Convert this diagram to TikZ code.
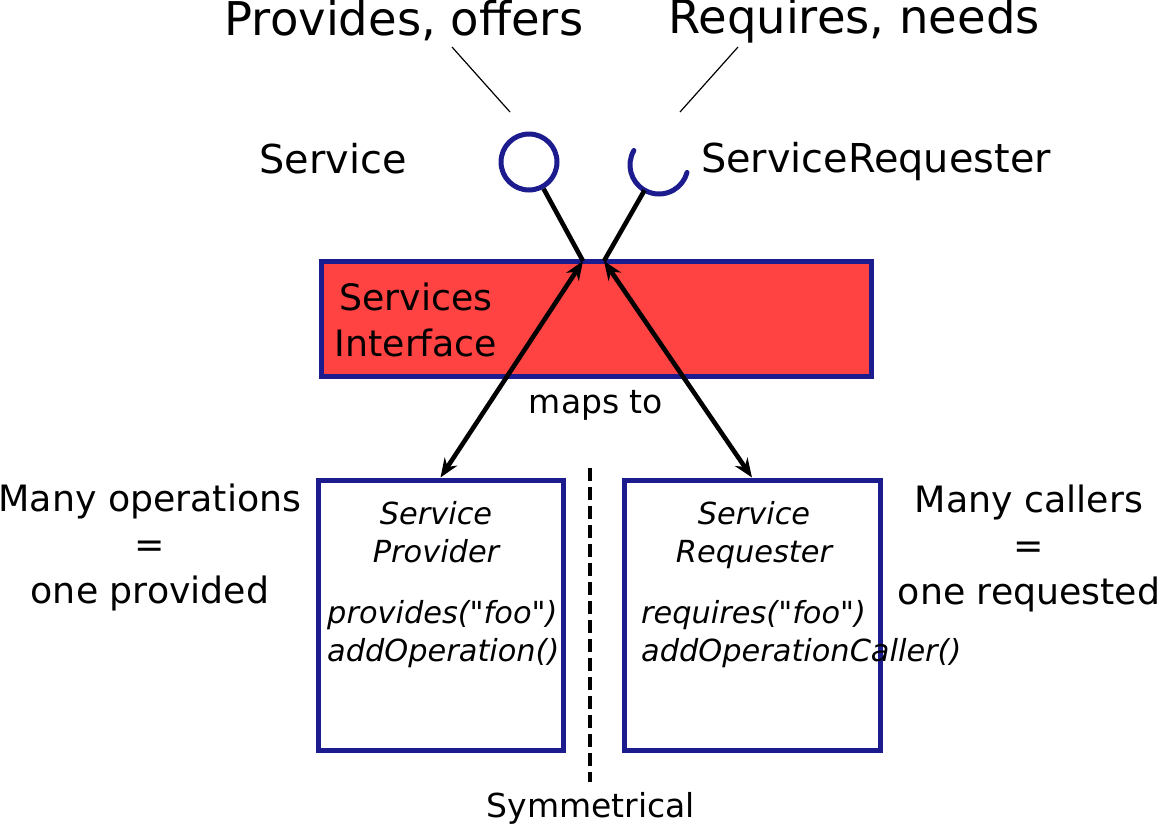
\documentclass[tikz,border=0pt]{standalone}
\usepackage{fontspec}
\setmainfont{DejaVu Sans}[Ligatures=TeXOff]
\usepackage{xcolor}
\usepackage{tikz}
\usetikzlibrary{arrows.meta}
\definecolor{ifnavy}{HTML}{1C1C8E}
\definecolor{ifred}{HTML}{FF4242}

\begin{document}
\begin{tikzpicture}[x=1pt,y=-1pt,inner sep=0pt,
  headtext/.style={font=\fontsize{46.5}{55}\selectfont},
  porttext/.style={font=\fontsize{39.8}{47}\selectfont},
  sidetext/.style={font=\fontsize{36.3}{46}\selectfont,align=center},
  maptext/.style={font=\fontsize{33}{40}\selectfont},
  boxtext/.style={font=\fontsize{30.4}{37.5}\selectfont\itshape,align=center},
  port/.style={circle,draw=ifnavy,line width=5pt,minimum size=56pt},
  stem/.style={line width=4.6pt},
  pointer/.style={line width=1.2pt},
  maps/.style={line width=4.6pt,{Stealth[length=19pt,width=15pt]}-{Stealth[length=19pt,width=15pt]}},
  comp/.style={draw=ifnavy,line width=5pt,minimum height=270pt}]
\useasboundingbox (0,0) rectangle (1159,828);
\node[draw=ifnavy,fill=ifred,line width=5pt,minimum width=550pt,minimum height=115pt] (iface) at (596,318.5) {};
\node[sidetext] (ifacetxt) at (416,320) {Services\\Interface};
\node[port] (prov) at (529,162) {};
\node[circle,minimum size=58pt] (req) at (659,165) {};
\draw[ifnavy,line width=5pt,line cap=round] (req) ++(-150:29) arc (-150:-345:29);
\coordinate (pj) at (583,261);
\coordinate (rj) at (604,261);
\draw[stem] (prov) -- (pj);
\draw[stem] (req) -- (rj);
\node[headtext] (provtxt) at (404,21) {Provides, offers};
\node[headtext] (reqtxt) at (854,21) {Requires, needs};
\coordinate (pa) at (452,47);
\coordinate (pb) at (510,112);
\coordinate (ra) at (738,47);
\coordinate (rb) at (680,112);
\draw[pointer] (pa) -- (pb);
\draw[pointer] (ra) -- (rb);
\node[porttext] (provlbl) at (333,159) {Service};
\node[porttext,anchor=west] (reqlbl) at (701,162) {ServiceRequester};
\node[comp,minimum width=245pt] (spbox) at (440.5,615) {};
\node[comp,minimum width=256pt] (srbox) at (752,615) {};
\draw[maps] (pj) -- (spbox.north);
\draw[maps] (rj) -- (srbox.north);
\node[maptext] (maptxt) at (596,405) {maps to};
\node[boxtext] (sptitle) at (436,532) {Service\\Provider};
\node[boxtext] (srtitle) at (754,535) {Service\\Requester};
\node[boxtext,align=left,anchor=west] (spops) at (327,634) {provides("foo")\\addOperation()};
\node[boxtext,align=left,anchor=west] (srops) at (641,634) {requires("foo")\\addOperationCaller()};
\coordinate (symtop) at (590,468);
\coordinate (symbot) at (590,782);
\draw[line width=4.6pt,dash pattern=on 13pt off 6pt] (symtop) -- (symbot);
\node[maptext] (symtxt) at (591,808) {Symmetrical};
\node[sidetext] (provside) at (150,547) {Many operations\\=\\one provided};
\node[sidetext] (reqside) at (1029,548) {Many callers\\=\\one requested};
\end{tikzpicture}
\end{document}
